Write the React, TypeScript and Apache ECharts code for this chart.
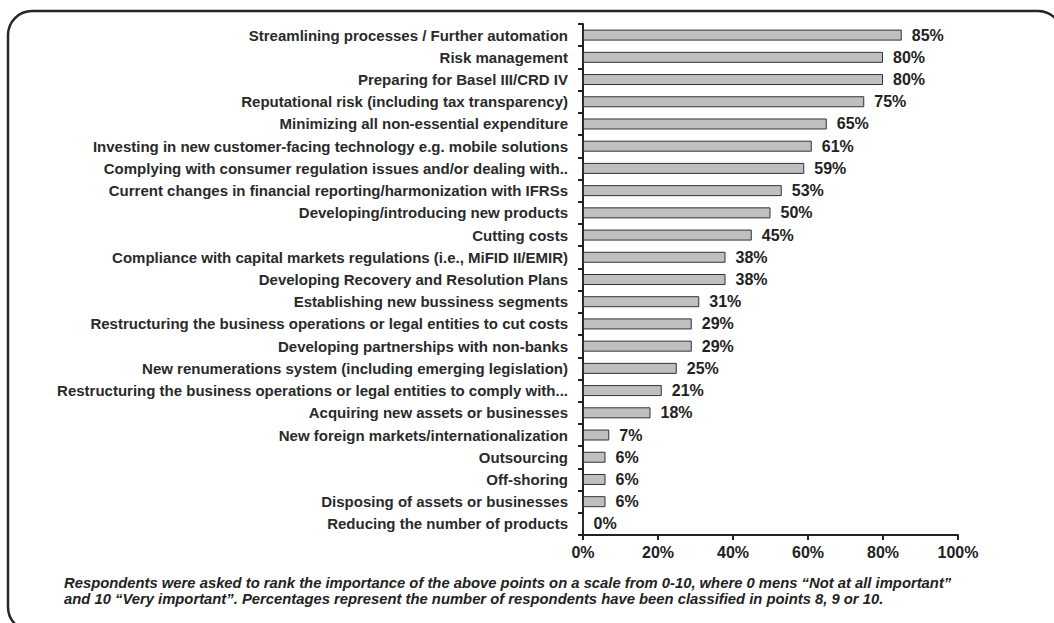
import React, { useEffect, useRef } from "react";
import * as echarts from "echarts";

const categories: string[] = [
  "Streamlining processes / Further automation",
  "Risk management",
  "Preparing for Basel III/CRD IV",
  "Reputational risk (including tax transparency)",
  "Minimizing all non-essential expenditure",
  "Investing in new customer-facing technology e.g. mobile solutions",
  "Complying with consumer regulation issues and/or dealing with..",
  "Current changes in financial reporting/harmonization with IFRSs",
  "Developing/introducing new products",
  "Cutting costs",
  "Compliance with capital markets regulations (i.e., MiFID II/EMIR)",
  "Developing Recovery and Resolution Plans",
  "Establishing new bussiness segments",
  "Restructuring the business operations or legal entities to cut costs",
  "Developing partnerships with non-banks",
  "New renumerations system (including emerging legislation)",
  "Restructuring the business operations or legal entities to comply with...",
  "Acquiring new assets or businesses",
  "New foreign markets/internationalization",
  "Outsourcing",
  "Off-shoring",
  "Disposing of assets or businesses",
  "Reducing the number of products",
];

const values: number[] = [85, 80, 80, 75, 65, 61, 59, 53, 50, 45, 38, 38, 31, 29, 29, 25, 21, 18, 7, 6, 6, 6, 0];

const footnoteLines: string[] = [
  "Respondents were asked to rank the importance of the above points on a scale from 0-10, where 0 mens \u201CNot at all important\u201D",
  "and 10 \u201CVery important\u201D. Percentages represent the number of respondents have been classified in points 8, 9 or 10.",
];

export default function App() {
  const ref = useRef<HTMLDivElement>(null);
  useEffect(() => {
    if (!ref.current) return;
    const chart = echarts.init(ref.current, null, { renderer: "svg" });
    chart.setOption({
      animation: false,
      grid: { left: 583, right: 96, top: 24, bottom: 88, containLabel: false },
      xAxis: {
        type: "value",
        min: 0,
        max: 100,
        interval: 20,
        axisLine: { show: true, lineStyle: { color: "#222", width: 2 } },
        axisTick: { show: true, length: 5, lineStyle: { color: "#222", width: 2 } },
        splitLine: { show: false },
        axisLabel: {
          formatter: "{value}%",
          color: "#222",
          fontFamily: "Liberation Sans, Arial, sans-serif",
          fontWeight: "bold",
          fontSize: 16,
          margin: 9,
        },
      },
      yAxis: {
        type: "category",
        inverse: true,
        data: categories,
        axisLine: { show: true, lineStyle: { color: "#222", width: 2 } },
        axisTick: { show: true, length: 5, alignWithLabel: false, lineStyle: { color: "#222", width: 2 } },
        axisLabel: {
          color: "#2a2a2a",
          fontFamily: "Liberation Sans, Arial, sans-serif",
          fontWeight: "bold",
          fontSize: 15,
          margin: 15,
        },
      },
      series: [
        {
          type: "bar",
          data: values,
          barWidth: 11,
          itemStyle: { color: "#bfbfc1", borderColor: "#333", borderWidth: 1 },
          label: {
            show: true,
            position: "right",
            distance: 10,
            formatter: "{c}%",
            color: "#222",
            fontFamily: "Liberation Sans, Arial, sans-serif",
            fontWeight: "bold",
            fontSize: 16,
          },
        },
      ],
      graphic: [
        {
          type: "rect",
          shape: { x: 8, y: 11, width: 1054, height: 620, r: 24 },
          style: { fill: "none", stroke: "#262626", lineWidth: 2.5 },
          silent: true,
        },
        {
          type: "text",
          left: 64,
          top: 575,
          style: {
            text: footnoteLines.join("\n"),
            fill: "#222",
            font: "italic bold 14.8px 'Liberation Sans', Arial, sans-serif",
            lineHeight: 16,
          },
        },
      ],
    });
    return () => chart.dispose();
  }, []);
  return (
    <div
      ref={ref}
      style={{ position: "fixed", left: 0, top: 0, width: 1054, height: 623, background: "#fff" }}
    />
  );
}
